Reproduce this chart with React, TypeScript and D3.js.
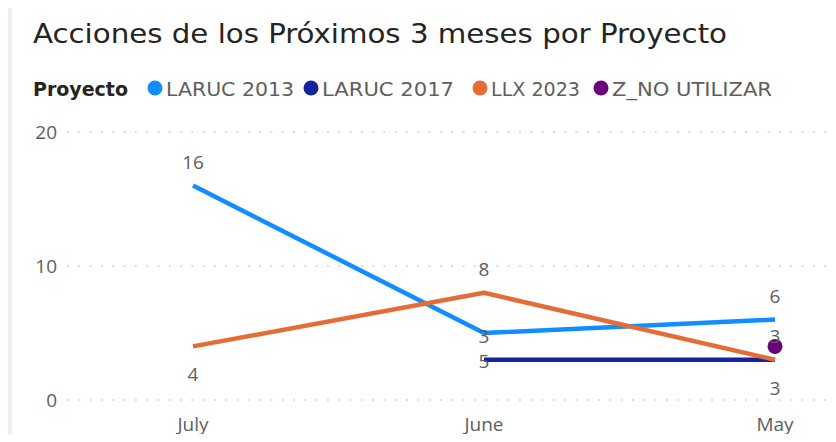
import React from "react";
import * as d3 from "d3";

const months = ["July", "June", "May"];
const seriesNames = ["LARUC 2013", "LARUC 2017", "LLX 2023", "Z_NO UTILIZAR"];
const seriesColors = ["#118DFF", "#12239E", "#E66C37", "#6B007B"];
const laruc2013 = [16, 5, 6];
const laruc2017 = [null, 3, 3];
const llx2023 = [4, 8, 3];
const zNoUtilizar = [null, null, 4];
const yTicks = [0, 10, 20];
// label placement: 1 = above point, -1 = below point, 0 = hidden
const laruc2013Pos = [1, -1, 1];
const laruc2017Pos = [0, 1, 1];
const llx2023Pos = [-1, 1, -1];
const zNoUtilizarPos = [0, 0, 0];

const seriesValues = [laruc2013, laruc2017, llx2023, zNoUtilizar];
const seriesLabelPos = [laruc2013Pos, laruc2017Pos, llx2023Pos, zNoUtilizarPos];

const W = 836;
const H = 442;
const legendTextWidths = [128, 132, 89, 160];
const legendCircleX = [155, 311, 480, 601];

export default function App() {
  const x = d3.scalePoint<string>().domain(months).range([193, 775]);
  const y = d3.scaleLinear().domain([0, 20]).range([400, 132]);
  const line = d3
    .line<number | null>()
    .defined((d) => d !== null)
    .x((_, i) => x(months[i]) as number)
    .y((d) => y(d as number));

  const axisFont = "'Open Sans', 'Noto Sans', sans-serif";
  const titleFont = "'DejaVu Sans Condensed', 'DejaVu Sans', sans-serif";

  return (
    <div style={{ margin: -8 }}>
      <svg width={W} height={H} style={{ display: "block" }}>
        <rect x={0} y={0} width={W} height={H} fill="#EEEFF4" />
        <rect x={12} y={6} width={W - 12} height={H - 6} fill="#FFFFFF" />
        <text
          x={33}
          y={43}
          fontFamily={titleFont}
          fontSize={27}
          fill="#252423"
          textLength={694}
          lengthAdjust="spacingAndGlyphs"
        >
          Acciones de los Próximos 3 meses por Proyecto
        </text>
        <text
          x={33}
          y={95.5}
          fontFamily={titleFont}
          fontSize={20}
          fontWeight="bold"
          fill="#252423"
          textLength={95}
          lengthAdjust="spacingAndGlyphs"
        >
          Proyecto
        </text>
        {seriesNames.map((name, i) => (
          <g key={name}>
            <circle cx={legendCircleX[i]} cy={88} r={7.5} fill={seriesColors[i]} />
            <text
              x={legendCircleX[i] + 11}
              y={95.5}
              fontFamily={titleFont}
              fontSize={20}
              fill="#605E5C"
              textLength={legendTextWidths[i]}
              lengthAdjust="spacingAndGlyphs"
            >
              {name}
            </text>
          </g>
        ))}
        {yTicks.map((t) => (
          <g key={t}>
            <line
              x1={67}
              x2={W}
              y1={y(t)}
              y2={y(t)}
              stroke="#DCDCDC"
              strokeWidth={2}
              strokeDasharray="2,9.3"
            />
            <text
              x={57}
              y={y(t)}
              dy="0.35em"
              textAnchor="end"
              fontFamily={axisFont}
              fontSize={19}
              fill="#605E5C"
            >
              {t}
            </text>
          </g>
        ))}
        {months.map((m) => (
          <text
            key={m}
            x={x(m) as number}
            y={431}
            textAnchor="middle"
            fontFamily={axisFont}
            fontSize={19}
            fill="#605E5C"
          >
            {m}
          </text>
        ))}
        {seriesValues.map((vals, si) => {
          const count = vals.filter((v) => v !== null).length;
          return count > 1 ? (
            <path
              key={si}
              d={line(vals) as string}
              fill="none"
              stroke={seriesColors[si]}
              strokeWidth={4.5}
              strokeLinejoin="round"
            />
          ) : (
            vals.map((v, i) =>
              v === null ? null : (
                <circle
                  key={`${si}-${i}`}
                  cx={x(months[i]) as number}
                  cy={y(v)}
                  r={7.5}
                  fill={seriesColors[si]}
                />
              )
            )
          );
        })}
        {seriesValues.map((vals, si) =>
          vals.map((v, i) => {
            const pos = seriesLabelPos[si][i];
            if (v === null || pos === 0) return null;
            const py = y(v);
            return (
              <text
                key={`l-${si}-${i}`}
                x={x(months[i]) as number}
                y={pos > 0 ? py - 17 : py + 35}
                textAnchor="middle"
                fontFamily={axisFont}
                fontSize={19}
                fill="#605E5C"
              >
                {v}
              </text>
            );
          })
        )}
      </svg>
    </div>
  );
}
